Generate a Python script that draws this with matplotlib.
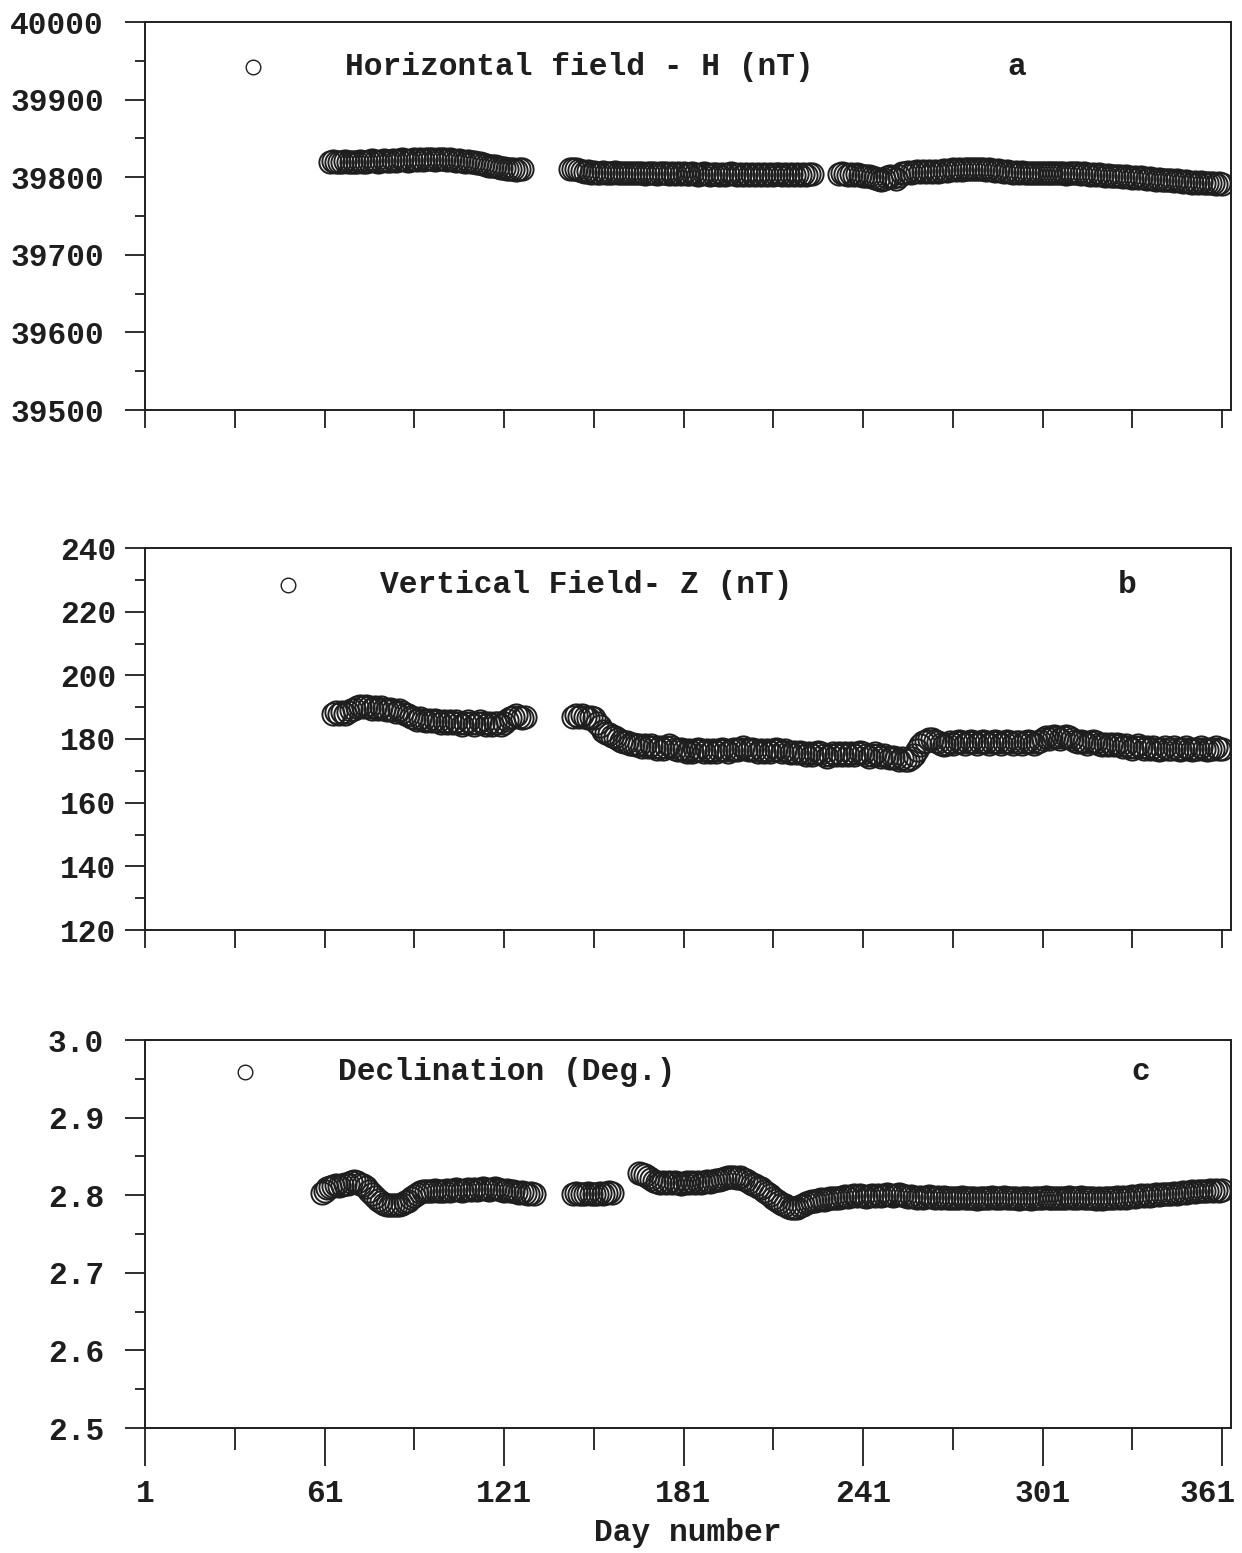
import numpy as np
import matplotlib
matplotlib.use("Agg")
import matplotlib.pyplot as plt
import matplotlib.transforms as mtransforms
from matplotlib.ticker import MultipleLocator, FixedLocator

plt.rcParams['font.family'] = ['Liberation Mono', 'DejaVu Sans Mono']

INK = '#1e1e1e'

# ---------------- data (daily means) ----------------
# Panel a: Horizontal field H (nT)
h_seg1_days = (63, 127)
h_seg1 = [39820, 39821, 39820, 39819, 39820, 39821, 39820, 39819, 39820, 39820,
          39821, 39820, 39820, 39821, 39822, 39821, 39820, 39821, 39822, 39821,
          39821, 39822, 39821, 39822, 39823, 39822, 39821, 39822, 39823, 39822,
          39823, 39822, 39823, 39824, 39823, 39822, 39823, 39824, 39823, 39822,
          39823, 39822, 39821, 39822, 39821, 39820, 39821, 39820, 39819, 39818,
          39818, 39817, 39816, 39815, 39815, 39814, 39813, 39812, 39812, 39811,
          39810, 39810, 39809, 39810, 39810]
h_seg2_days = (143, 224)
h_seg2 = [39811, 39810, 39811, 39809, 39808, 39807, 39808, 39806, 39807, 39806,
          39806, 39807, 39806, 39805, 39806, 39807, 39806, 39805, 39806, 39806,
          39805, 39806, 39805, 39806, 39805, 39804, 39805, 39806, 39805, 39804,
          39805, 39806, 39805, 39804, 39805, 39804, 39805, 39804, 39805, 39804,
          39804, 39805, 39804, 39803, 39804, 39805, 39804, 39803, 39804, 39804,
          39803, 39804, 39803, 39804, 39805, 39804, 39803, 39804, 39803, 39804,
          39803, 39804, 39803, 39804, 39803, 39804, 39803, 39804, 39803, 39804,
          39804, 39803, 39804, 39803, 39804, 39803, 39804, 39803, 39804, 39803,
          39804, 39804]
h_seg3_days = (233, 361)
h_seg3 = [39804, 39805, 39804, 39803, 39804, 39803, 39804, 39803, 39802, 39801,
          39802, 39800, 39799, 39798, 39797, 39798, 39800, 39802, 39800, 39798,
          39802, 39805, 39806, 39807, 39806, 39807, 39808, 39807, 39808, 39807,
          39808, 39807, 39808, 39807, 39808, 39809, 39808, 39809, 39810, 39809,
          39810, 39809, 39810, 39811, 39810, 39811, 39810, 39811, 39810, 39809,
          39810, 39809, 39808, 39809, 39808, 39807, 39808, 39807, 39806, 39807,
          39806, 39807, 39806, 39805, 39806, 39805, 39806, 39805, 39806, 39805,
          39806, 39805, 39806, 39805, 39806, 39805, 39804, 39805, 39806, 39805,
          39805, 39804, 39805, 39804, 39803, 39804, 39803, 39804, 39803, 39802,
          39803, 39802, 39801, 39802, 39801, 39800, 39801, 39800, 39799, 39800,
          39799, 39800, 39799, 39798, 39799, 39798, 39797, 39798, 39797, 39796,
          39797, 39796, 39795, 39796, 39795, 39794, 39795, 39794, 39793, 39794,
          39793, 39794, 39793, 39792, 39793, 39792, 39791, 39792, 39791]

# Panel b: Vertical field Z (nT)
z_seg1_days = (64, 128)
z_seg1 = [188, 188.5, 188, 188.5, 188, 188.5, 189, 189.5, 190, 190.5,
          190, 190.5, 190, 189.5, 190, 189.5, 190, 189.5, 189, 189.5,
          189, 188.5, 189, 188.5, 188, 187.5, 187, 186.5, 186, 186.5,
          186, 185.5, 186, 185.5, 186, 185.5, 185, 185.5, 185, 185.5,
          185, 185.5, 185, 184.5, 185, 185.5, 185, 184.5, 185, 185.5,
          185, 184.5, 185, 184.5, 185, 185, 184.5, 185, 186, 186.5,
          187, 187.5, 187, 186.5, 187]
z_seg2_days = (144, 361)
z_seg2 = [187, 187.5, 187, 187.5, 187, 186.5, 187, 186.5, 185, 184,
          182.5, 182, 181.5, 181, 180.5, 180, 179.5, 179, 179, 178.5,
          178.5, 178, 178, 177.5, 178, 177.5, 178, 177.5, 177, 177.5,
          177, 177.5, 178, 177.5, 177, 176.5, 177, 176.5, 176, 176.5,
          176, 176.5, 177, 176.5, 176, 176.5, 176, 176.5, 176, 176.5,
          177, 176.5, 176, 176.5, 177, 176.5, 177, 177.5, 177, 176.5,
          177, 176.5, 176, 176.5, 176, 176.5, 176, 176.5, 177, 176.5,
          176, 176.5, 176, 175.5, 176, 175.5, 176, 175.5, 175, 175.5,
          175, 175.5, 176, 175.5, 175, 174.5, 175, 175.5, 175, 175.5,
          175, 175.5, 175, 175.5, 175, 175.5, 176, 175.5, 175, 174.5,
          175, 175.5, 175, 174.5, 175, 174.5, 174, 174.5, 174, 173.5,
          174, 173.5, 173.5, 174, 175, 176.5, 178, 179, 179.5, 180,
          180, 179.5, 179, 178.5, 178, 178.5, 179, 178.5, 179, 179.5,
          179, 178.5, 179, 179.5, 179, 178.5, 179, 179.5, 179, 178.5,
          179, 179.5, 179, 178.5, 179, 179.5, 179, 178.5, 179, 179,
          178.5, 179, 179.5, 179, 178.5, 179, 179.5, 180, 180.5, 180,
          180.5, 181, 180.5, 180, 180.5, 181, 180.5, 180, 179.5, 179,
          179.5, 179, 178.5, 179, 179.5, 179, 178.5, 178, 178.5, 178,
          178.5, 178, 178.5, 178, 177.5, 178, 177.5, 177, 177.5, 178,
          177.5, 177, 177.5, 177, 177.5, 177, 176.5, 177, 177.5, 177,
          177, 177.5, 177, 176.5, 177, 177.5, 177, 176.5, 177, 177,
          177.5, 177, 176.5, 177, 177, 177.5, 177, 177]

# Panel c: Declination (deg)
d_seg1_days = (60, 131)
d_seg1 = [2.803, 2.806, 2.809, 2.811, 2.812, 2.813, 2.812, 2.813, 2.814, 2.815,
          2.817, 2.818, 2.817, 2.815, 2.813, 2.810, 2.806, 2.802, 2.798, 2.794,
          2.791, 2.789, 2.788, 2.787, 2.788, 2.787, 2.788, 2.789, 2.791, 2.793,
          2.796, 2.799, 2.802, 2.804, 2.805, 2.806, 2.805, 2.806, 2.807, 2.806,
          2.805, 2.806, 2.807, 2.806, 2.807, 2.808, 2.807, 2.806, 2.807, 2.808,
          2.807, 2.808, 2.807, 2.808, 2.809, 2.808, 2.807, 2.808, 2.809, 2.808,
          2.807, 2.806, 2.807, 2.806, 2.805, 2.804, 2.803, 2.804, 2.803, 2.802,
          2.803, 2.802]
d_seg2_days = (144, 157)
d_seg2 = [2.802, 2.803, 2.802, 2.801, 2.802, 2.803, 2.802, 2.801, 2.802, 2.803,
          2.802, 2.803, 2.804, 2.803]
d_seg3_days = (166, 361)
d_seg3 = [2.828, 2.827, 2.826, 2.824, 2.821, 2.818, 2.817, 2.816, 2.817, 2.816,
          2.817, 2.816, 2.817, 2.816, 2.815, 2.816, 2.817, 2.816, 2.817, 2.816,
          2.817, 2.816, 2.817, 2.818, 2.817, 2.818, 2.819, 2.820, 2.821, 2.822,
          2.823, 2.824, 2.823, 2.822, 2.823, 2.821, 2.819, 2.817, 2.815, 2.813,
          2.811, 2.809, 2.806, 2.803, 2.800, 2.797, 2.794, 2.791, 2.789, 2.787,
          2.785, 2.784, 2.783, 2.784, 2.786, 2.788, 2.790, 2.791, 2.792, 2.793,
          2.794, 2.795, 2.794, 2.795, 2.796, 2.797, 2.796, 2.797, 2.798, 2.799,
          2.798, 2.799, 2.800, 2.799, 2.800, 2.799, 2.798, 2.799, 2.800, 2.799,
          2.800, 2.799, 2.800, 2.801, 2.800, 2.799, 2.800, 2.801, 2.800, 2.799,
          2.798, 2.799, 2.798, 2.797, 2.798, 2.797, 2.798, 2.799, 2.798, 2.797,
          2.798, 2.797, 2.798, 2.797, 2.796, 2.797, 2.796, 2.797, 2.798, 2.797,
          2.796, 2.797, 2.796, 2.795, 2.796, 2.797, 2.796, 2.797, 2.798, 2.797,
          2.796, 2.797, 2.798, 2.797, 2.796, 2.797, 2.796, 2.795, 2.796, 2.797,
          2.796, 2.795, 2.796, 2.797, 2.796, 2.797, 2.798, 2.797, 2.796, 2.797,
          2.796, 2.797, 2.796, 2.797, 2.798, 2.797, 2.796, 2.797, 2.798, 2.797,
          2.796, 2.797, 2.796, 2.795, 2.796, 2.795, 2.796, 2.797, 2.796, 2.797,
          2.798, 2.797, 2.798, 2.797, 2.798, 2.799, 2.798, 2.799, 2.800, 2.799,
          2.800, 2.799, 2.800, 2.801, 2.800, 2.801, 2.802, 2.801, 2.802, 2.803,
          2.802, 2.803, 2.804, 2.803, 2.804, 2.805, 2.804, 2.805, 2.806, 2.805,
          2.806, 2.807, 2.806, 2.807, 2.806, 2.807]

x_major_ticks = [1, 61, 121, 181, 241, 301, 361]
x_minor_ticks = [31, 91, 151, 211, 271, 331]

panel_titles = ["Horizontal field - H (nT)", "Vertical Field- Z (nT)", "Declination (Deg.)"]
panel_letters = ["a", "b", "c"]
y_limits = [(39500, 40000), (120, 240), (2.5, 3.0)]
y_steps = [100, 20, 0.1]
x_label = "Day number"

# ---------------- figure ----------------
W, H = 1242, 1553
fig = plt.figure(figsize=(W / 100, H / 100), dpi=100)

left_px = 145
width_px = 1086
boxes = [(22, 410), (548, 930), (1040, 1428)]  # (top, bottom) in px

segments = [
    [(h_seg1_days, h_seg1), (h_seg2_days, h_seg2), (h_seg3_days, h_seg3)],
    [(z_seg1_days, z_seg1), (z_seg2_days, z_seg2)],
    [(d_seg1_days, d_seg1), (d_seg2_days, d_seg2), (d_seg3_days, d_seg3)],
]

legend_pos = [(0.0994, 0.884, 0.184, 0.803),
              (0.132, 0.903, 0.216, 0.904),
              (0.092, 0.9175, 0.178, 0.917)]

fs = 22.5
ylabel_pad = [15, 6, 15]

for i in range(3):
    top, bot = boxes[i]
    ax = fig.add_axes([left_px / W, 1 - bot / H, width_px / W, (bot - top) / H])
    for (d0, d1), vals in segments[i]:
        days = np.arange(d0, d1 + 1)
        ax.plot(days, vals, linestyle='none', marker='o', ms=16,
                mfc='none', mec=INK, mew=1.4)
    ax.set_xlim(1, 364)
    ax.set_ylim(*y_limits[i])
    step = y_steps[i]
    ax.yaxis.set_major_locator(MultipleLocator(step))
    ax.yaxis.set_minor_locator(MultipleLocator(step / 2))
    if i == 2:
        ax.yaxis.set_major_formatter(matplotlib.ticker.FormatStrFormatter('%.1f'))
    for s in ax.spines.values():
        s.set_linewidth(1.4)
        s.set_color(INK)
    ax.tick_params(axis='y', which='major', direction='out', length=14.5, width=1.3,
                   color=INK, labelsize=fs, labelcolor=INK, pad=ylabel_pad[i])
    ax.tick_params(axis='y', which='minor', direction='out', length=7.5, width=1.3, color=INK)
    if i < 2:
        ax.xaxis.set_major_locator(FixedLocator(sorted(x_major_ticks + x_minor_ticks)))
        ax.xaxis.set_minor_locator(FixedLocator([]))
        ax.tick_params(axis='x', which='major', direction='out', length=13, width=1.3,
                       color=INK, labelbottom=False)
    else:
        ax.xaxis.set_major_locator(FixedLocator(x_major_ticks))
        ax.xaxis.set_minor_locator(FixedLocator(x_minor_ticks))
        ax.tick_params(axis='x', which='major', direction='out', length=27, width=1.3,
                       color=INK, labelsize=fs, labelcolor=INK, pad=10)
        ax.tick_params(axis='x', which='minor', direction='out', length=16, width=1.3, color=INK)
        ax.set_xlabel(x_label, fontsize=fs, color=INK, fontweight='bold', labelpad=6)
    for lab in ax.get_xticklabels() + ax.get_yticklabels():
        lab.set_fontweight('bold')
    if i == 2:
        last = ax.get_xticklabels()[-1]
        last.set_transform(last.get_transform() +
                           mtransforms.ScaledTranslation(-14 / 100, 0, fig.dpi_scale_trans))

    mx, my, tx, lx = legend_pos[i]
    ax.plot([mx], [my], transform=ax.transAxes, marker='o', ms=10.5, mfc='none',
            mec=INK, mew=1.0, linestyle='none', clip_on=False)
    ax.text(tx, my, panel_titles[i], transform=ax.transAxes, fontsize=fs,
            fontweight='bold', color=INK, ha='left', va='center')
    ax.text(lx, my, panel_letters[i], transform=ax.transAxes, fontsize=fs,
            fontweight='bold', color=INK, ha='center', va='center')

fig.savefig("out.png", dpi=100, facecolor='white')
